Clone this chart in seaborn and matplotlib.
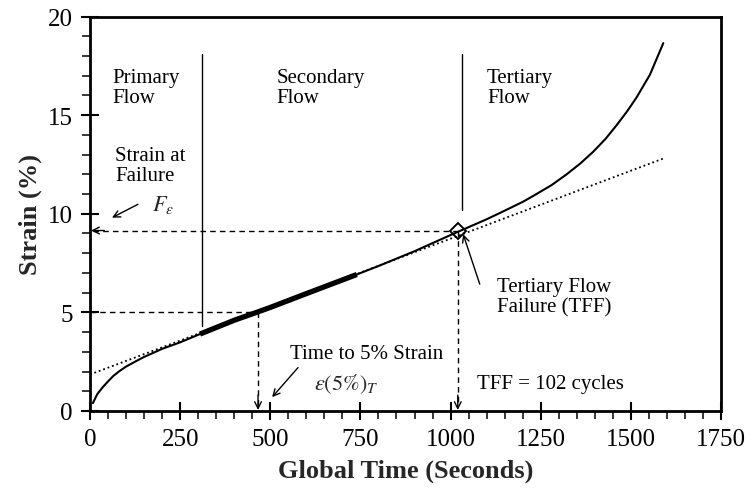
import numpy as np
import pandas as pd
import seaborn as sns
import matplotlib.pyplot as plt
from matplotlib.ticker import MultipleLocator

# Creep curve (strain vs. time)
time_s = [8, 20, 35, 50, 65, 80, 100, 125, 150, 200, 250, 305, 400, 462, 500,
          600, 730, 800, 900, 1000, 1035, 1100, 1137, 1200, 1229, 1280, 1322,
          1360, 1396, 1430, 1461, 1490, 1516, 1553, 1590]
strain_pct = [0.4, 0.85, 1.2, 1.5, 1.78, 2.0, 2.25, 2.5, 2.74, 3.15, 3.48, 3.9,
              4.6, 5.0, 5.25, 5.95, 6.85, 7.35, 8.1, 8.92, 9.2, 9.72, 10.04,
              10.6, 10.9, 11.45, 12.0, 12.55, 13.15, 13.8, 14.5, 15.2, 15.9,
              17.05, 18.65]

# Secondary-flow fitted segment (bold)
seg_time = [305, 400, 462, 500, 600, 740]
seg_strain = [3.9, 4.6, 5.0, 5.25, 5.95, 6.92]

# Secondary-flow tangent (dotted)
tan_time = [0, 1590]
tan_strain = [1.85, 12.8]

# Key points
tff_time, tff_strain = 1020, 9.15
t5_time, t5_strain = 466, 5.0
phase_bounds = [312, 1032]
phase_bottoms = [4.3, 10.2]
phase_top = 18.1

sns.set_style("ticks")
plt.rcParams['font.family'] = ['Liberation Serif', 'DejaVu Serif']
plt.rcParams['mathtext.fontset'] = 'stix'

fig = plt.figure(figsize=(7.5, 4.89), dpi=100)
ax = fig.add_axes([0.12, 0.1575, 0.8413, 0.8067])

curve = pd.DataFrame({"t": time_s, "s": strain_pct})
seg = pd.DataFrame({"t": seg_time, "s": seg_strain})
tan = pd.DataFrame({"t": tan_time, "s": tan_strain})

sns.lineplot(data=tan, x="t", y="s", ax=ax, color="black", lw=1.3,
             linestyle=(0, (1, 1.6)), sort=False, estimator=None)
sns.lineplot(data=curve, x="t", y="s", ax=ax, color="black", lw=1.5,
             sort=False, estimator=None)
sns.lineplot(data=seg, x="t", y="s", ax=ax, color="black", lw=3.8,
             sort=False, estimator=None, solid_capstyle="butt")

# Phase boundaries
for xb, yb in zip(phase_bounds, phase_bottoms):
    ax.plot([xb, xb], [yb, phase_top], color="black", lw=1.0)

dash = dict(color="black", lw=1.0, linestyle=(0, (4, 3)))
# Strain at failure and time to failure guides
ax.plot([8, tff_time], [tff_strain, tff_strain], **dash)
ax.plot([tff_time, tff_time], [tff_strain, 0.3], **dash)
# 5% strain guides
ax.plot([0, t5_time], [t5_strain, t5_strain], **dash)
ax.plot([t5_time, t5_time], [t5_strain, 0.3], **dash)

head = dict(arrowstyle="->", color="black", lw=1.0, mutation_scale=12,
            shrinkA=0, shrinkB=0)
ax.annotate("", xy=(3, tff_strain), xytext=(40, tff_strain), arrowprops=head)
ax.annotate("", xy=(tff_time, 0.05), xytext=(tff_time, 0.8), arrowprops=head)
ax.annotate("", xy=(t5_time, 0.05), xytext=(t5_time, 0.8), arrowprops=head)

ax.plot([tff_time], [tff_strain], marker="D", ms=8, mfc="none",
        mec="black", mew=1.4)

txt = dict(fontsize=15, color="black", va="center", ha="left", linespacing=1.1)
ax.text(61, 16.4, "Primary\nFlow", **txt)
ax.text(518, 16.4, "Secondary\nFlow", **txt)
ax.text(1101, 16.4, "Tertiary\nFlow", **txt)
ax.text(69, 12.45, "Strain at\nFailure", **txt)
ax.text(172, 10.5, r"$F_{\varepsilon}$", fontsize=16, va="center", ha="left")
ax.annotate("", xy=(61, 9.8), xytext=(133, 10.48), arrowprops=head)
ax.text(1128, 5.8, "Tertiary Flow\nFailure (TFF)", **txt)
ax.annotate("", xy=(1035, 8.96), xytext=(1081, 6.43), arrowprops=head)
ax.text(555, 2.9, "Time to 5% Strain", **txt)
ax.text(622, 1.4, r"$\mathit{\varepsilon(5\%)}_{T}$", fontsize=16,
        va="center", ha="left")
ax.annotate("", xy=(505, 0.7), xytext=(577, 2.2), arrowprops=head)
ax.text(1073, 1.4, "TFF = 102 cycles", **txt)

ax.set_xlim(0, 1750)
ax.set_ylim(0, 20)
ax.xaxis.set_major_locator(MultipleLocator(250))
ax.xaxis.set_minor_locator(MultipleLocator(50))
ax.yaxis.set_major_locator(MultipleLocator(5))
ax.yaxis.set_minor_locator(MultipleLocator(1))
ax.tick_params(which="major", direction="inout", length=13, width=1.5,
               labelsize=18, colors="black", pad=6)
ax.tick_params(which="minor", direction="out", length=6, width=1.3)
for sp in ax.spines.values():
    sp.set_linewidth(2.0)
    sp.set_color("black")
    sp.set_visible(True)

ax.set_xlabel("Global Time (Seconds)", fontsize=19, fontweight="bold", labelpad=6)
ax.set_ylabel("Strain (%)", fontsize=19, fontweight="bold", labelpad=4)

fig.savefig("out.png", dpi=100)
